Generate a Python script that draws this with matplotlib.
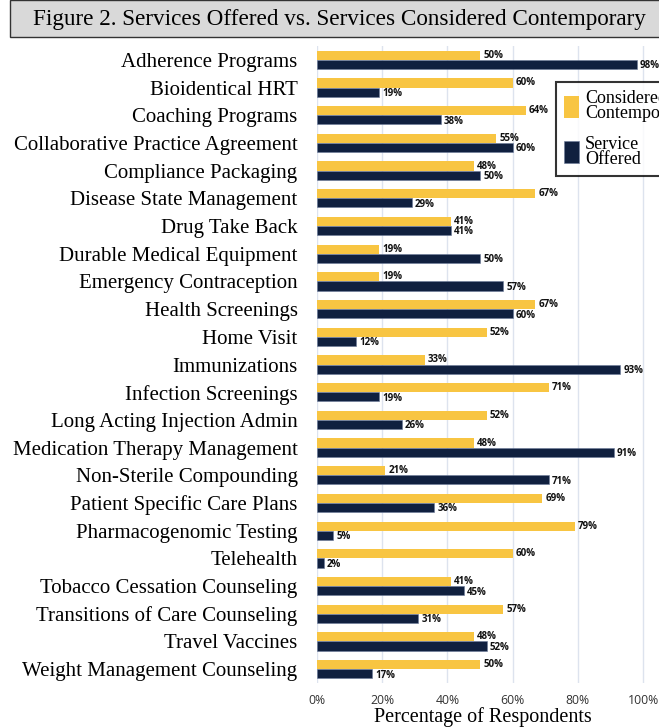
import numpy as np
import matplotlib.pyplot as plt
from matplotlib.patches import Rectangle

# Donnees (pourcentage de repondants)
services = [
    "Adherence Programs", "Bioidentical HRT", "Coaching Programs",
    "Collaborative Practice Agreement", "Compliance Packaging",
    "Disease State Management", "Drug Take Back", "Durable Medical Equipment",
    "Emergency Contraception", "Health Screenings", "Home Visit",
    "Immunizations", "Infection Screenings", "Long Acting Injection Admin",
    "Medication Therapy Management", "Non-Sterile Compounding",
    "Patient Specific Care Plans", "Pharmacogenomic Testing", "Telehealth",
    "Tobacco Cessation Counseling", "Transitions of Care Counseling",
    "Travel Vaccines", "Weight Management Counseling",
]
considered = [50, 60, 64, 55, 48, 67, 41, 19, 19, 67, 52, 33, 71, 52, 48, 21, 69, 79, 60, 41, 57, 48, 50]
offered = [98, 19, 38, 60, 50, 29, 41, 50, 57, 60, 12, 93, 19, 26, 91, 71, 36, 5, 2, 45, 31, 52, 17]
x_ticks = [0, 20, 40, 60, 80, 100]

jaune = "#F8C542"
marine = "#10203F"
serif = "Liberation Serif"

fig = plt.figure(figsize=(6.59, 7.27), dpi=100)

# Bandeau du titre
fig.patches.append(Rectangle((10 / 659, 1 - 37 / 727), 1.0, 37 / 727, transform=fig.transFigure,
                             facecolor="#d9d9d9", edgecolor="#333333", linewidth=1.0, clip_on=False))
fig.text(339 / 659, 1 - 19 / 727, "Figure 2. Services Offered vs. Services Considered Contemporary",
         ha="center", va="center", fontsize=16.7, family=serif, color="black")

ax = fig.add_axes([317 / 659, 1 - 683 / 727, 331 / 659, 637 / 727])

y = np.arange(len(services))
h = 0.33
ax.barh(y - h / 2, considered, height=h, color=jaune, label="Considered\nContemporary")
ax.barh(y + h / 2, offered, height=h, color=marine, edgecolor="#6b7a99", linewidth=0.4,
        label="Service\nOffered")

for yy, v in zip(y, considered):
    ax.text(v + 1, yy - h / 2, f"{v}%", va="center", ha="left", fontsize=7,
            fontweight="bold", family="Open Sans", color="#111111")
for yy, v in zip(y, offered):
    ax.text(v + 1, yy + h / 2 + 0.05, f"{v}%", va="center", ha="left", fontsize=7,
            fontweight="bold", family="Open Sans", color="#111111")

ax.set_ylim(len(services) - 0.5, -0.5)
ax.set_xlim(0, 101.5)
ax.set_yticks(y)
ax.set_yticklabels(services, family=serif, fontsize=15)
ax.set_xticks(x_ticks)
ax.set_xticklabels([f"{t}%" for t in x_ticks], family="Open Sans", fontsize=8.8, color="#333333")
ax.tick_params(length=0)
ax.tick_params(axis="x", pad=8)
ax.tick_params(axis="y", pad=14)
for s in ax.spines.values():
    s.set_visible(False)
ax.grid(axis="x", color="#dde3ee", linewidth=1)
ax.set_axisbelow(True)
ax.set_xlabel("Percentage of Respondents", family=serif, fontsize=14.5, labelpad=0)

leg = ax.legend(loc="upper left", bbox_to_anchor=(556 / 659, 1 - 82 / 727), bbox_transform=fig.transFigure,
                prop={"family": serif, "size": 13}, frameon=True, fancybox=False,
                handlelength=0.85, handleheight=1.5, labelspacing=0.75, borderpad=0.45,
                handletextpad=0.3, borderaxespad=0)
leg.get_frame().set_edgecolor("black")
leg.get_frame().set_linewidth(1.5)
for t in leg.get_texts():
    t.set_linespacing(0.85)

fig.savefig("out.png", dpi=100)
